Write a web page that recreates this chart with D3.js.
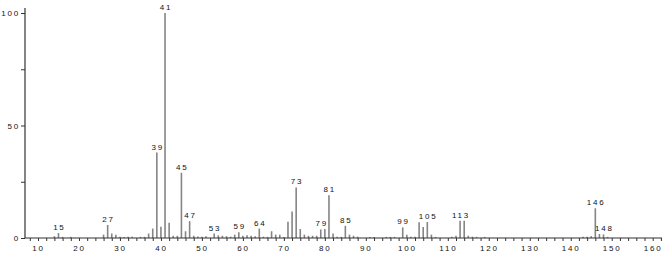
<!DOCTYPE html>
<html>
<head>
<meta charset="utf-8">
<script src="https://cdn.jsdelivr.net/npm/d3@7"></script>
<style>
body { margin: 0; background: #fff; }
text { font-family: "Liberation Sans", Arial, sans-serif; font-size: 8px; fill: #111; letter-spacing: 1.8px; }
</style>
</head>
<body>
<div id="chart"></div>
<script>
// m/z and relative abundance
var mz = [14, 15, 16, 18, 26, 27, 28, 29, 30, 31, 32, 33, 35, 36, 37, 38, 39, 40, 41, 42, 43, 44, 45, 46, 47, 48,
	49, 50, 51, 53, 54, 55, 56, 57, 58, 59, 60, 61, 62, 63, 64, 65, 66, 67, 68, 69, 70, 71, 72, 73, 74, 75, 76, 77, 78,
	79, 80, 81, 82, 83, 84, 85, 86, 87, 88, 91, 92, 95, 96, 97, 99, 100, 101, 102, 103, 104, 105, 106, 107,
	111, 112, 113, 114, 115, 116, 117, 119, 143, 144, 145, 146, 147, 148, 149];
var abund = [0.8, 2.2, 0.5, 0.5, 1.5, 5.8, 2, 1.5, 0.6, 0.5, 0.6, 0.6, 0.5, 0.5, 2, 4.2, 38, 5, 100, 6.8, 1, 1, 29, 3, 7.5, 1,
	0.7, 0.6, 0.8, 2, 1.2, 1, 0.8, 0.6, 1.5, 2.6, 1, 1.2, 1, 0.8, 4.2, 0.6, 0.5, 3, 1.5, 1.5, 0.5, 7.2, 11.8, 22.5, 4, 1.5, 1, 1, 1,
	3.8, 4, 19, 2, 0.6, 0.5, 5.4, 1.5, 1, 0.6, 0.5, 0.5, 0.5, 0.5, 0.5, 4.7, 1.5, 0.6, 0.6, 7, 4.9, 7.1, 1.5, 0.5,
	0.6, 1, 7.7, 7.7, 1, 0.6, 0.5, 0.5, 0.6, 0.6, 0.8, 13.2, 1.8, 1.6, 0.5];
var labeled = [15, 27, 39, 41, 45, 47, 53, 59, 64, 73, 79, 81, 85, 99, 105, 113, 146, 148];
var xTicks = [10, 20, 30, 40, 50, 60, 70, 80, 90, 100, 110, 120, 130, 140, 150, 160];
var yTicks = [0, 50, 100];

var width = 666, height = 254;
var svg = d3.select("#chart").append("svg")
	.attr("width", width)
	.attr("height", height);

var x = d3.scaleLinear().domain([10, 160]).range([38, 652.7]);
var y = d3.scaleLinear().domain([0, 100]).range([238, 13]);
var x0 = 25;

// peaks
var peaks = mz.map(function(d, i) { return {m: d, a: abund[i]}; });
svg.selectAll("line.peak")
	.data(peaks)
	.enter()
	.append("line")
	.attr("class", "peak")
	.attr("x1", function(d) { return x(d.m); })
	.attr("x2", function(d) { return x(d.m); })
	.attr("y1", y(0))
	.attr("y2", function(d) { return y(d.a); })
	.style("stroke", "#858585")
	.style("stroke-width", 1.6);

// peak labels
svg.selectAll("text.plab")
	.data(peaks.filter(function(d) { return labeled.indexOf(d.m) >= 0; }))
	.enter()
	.append("text")
	.attr("class", "plab")
	.attr("x", function(d) { return x(d.m) + 0.9; })
	.attr("y", function(d) { return y(d.a) - 3; })
	.attr("text-anchor", "middle")
	.text(function(d) { return d.m; });

// x axis
var xAxis = d3.axisBottom(x)
	.tickValues(d3.range(8, 163, 2))
	.tickSize(3)
	.tickFormat(function(d) { return xTicks.indexOf(d) >= 0 ? d : ""; });
var gx = svg.append("g")
	.attr("transform", "translate(0," + y(0) + ")")
	.call(xAxis);
gx.select(".domain").remove();
gx.append("line").attr("x1", x0).attr("x2", 662).style("stroke", "#333").style("stroke-width", 1.2);
gx.selectAll(".tick line").style("stroke", "#333").style("stroke-width", 1);
gx.selectAll(".tick text")
	.attr("dy", "0.9em")
	.style("font-size", "8px")
	.style("font-family", "Liberation Sans, Arial, sans-serif")
	.style("fill", "#111");

// y axis
var yAxis = d3.axisLeft(y)
	.tickValues([0, 25, 50, 75, 100])
	.tickSize(4)
	.tickFormat(function(d) { return yTicks.indexOf(d) >= 0 ? d : ""; });
var gy = svg.append("g")
	.attr("transform", "translate(" + x0 + ",0)")
	.call(yAxis);
gy.select(".domain").remove();
gy.append("line").attr("y1", 8).attr("y2", y(0)).style("stroke", "#333").style("stroke-width", 1.2);
gy.selectAll(".tick line").style("stroke", "#333").style("stroke-width", 1);
gy.selectAll(".tick text")
	.attr("x", -5)
	.style("font-size", "8px")
	.style("font-family", "Liberation Sans, Arial, sans-serif")
	.style("fill", "#111");
</script>
</body>
</html>
